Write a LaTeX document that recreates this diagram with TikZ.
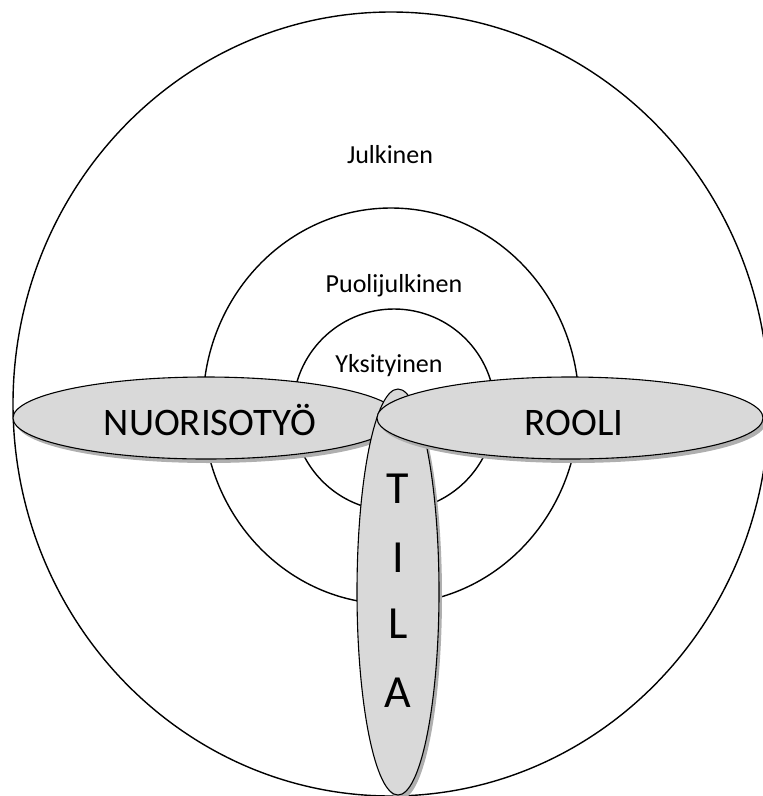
\documentclass[tikz,border=0pt]{standalone}
\usepackage{fontspec}
\setmainfont{Carlito}
\definecolor{pillfill}{HTML}{D9D9D9}
\definecolor{pillshadow}{HTML}{AFAFAF}
\begin{document}
\begin{tikzpicture}[x=1pt,y=-1pt,
  ring/.style={draw=black,line width=1.4pt},
  pill/.style={draw=black,line width=1.1pt,fill=pillfill},
  pillshade/.style={fill=pillshadow},
  lab/.style={font=\fontsize{26}{30}\selectfont,anchor=base,inner sep=0pt},
  biglab/.style={font=\fontsize{39}{46}\selectfont,anchor=base,inner sep=0pt},
  letter/.style={font=\fontsize{46}{54}\selectfont,anchor=base,inner sep=0pt}]
\useasboundingbox (0,0) rectangle (763,796);
\clip (0,0) rectangle (763,796);
% rings
\draw[ring] (391,404) ellipse [x radius=378pt, y radius=392pt];
\draw[ring] (391,406) ellipse [x radius=188pt, y radius=198pt];
\draw[ring] (394,410) circle [radius=101pt];
% ring labels
\node[lab] (julkinen) at (390,163) {Julkinen};
\node[lab] (puoli) at (394,292) {Puolijulkinen};
\node[lab] (yksi) at (389,372) {Yksityinen};
% NUORISOTYO ellipse
\fill[pillshade] (209,422) ellipse [x radius=193pt, y radius=41pt];
\draw[pill] (206,418) ellipse [x radius=193pt, y radius=41pt];
% TILA ellipse
\fill[pillshade] (401,596) ellipse [x radius=41pt, y radius=203pt];
\draw[pill] (398,592) ellipse [x radius=41pt, y radius=203pt];
% ROOLI ellipse
\fill[pillshade] (573,422) ellipse [x radius=193pt, y radius=41pt];
\draw[pill] (570,418) ellipse [x radius=193pt, y radius=41pt];
% texts
\node[biglab] (nuoriso) at (210,435) {NUORISOTYÖ};
\node[biglab] (rooli) at (574,435) {ROOLI};
\node[letter] (tilaT) at (398,503) {T};
\node[letter] (tilaI) at (398,572) {I};
\node[letter] (tilaL) at (398,638) {L};
\node[letter] (tilaA) at (398,707) {A};
\end{tikzpicture}
\end{document}
